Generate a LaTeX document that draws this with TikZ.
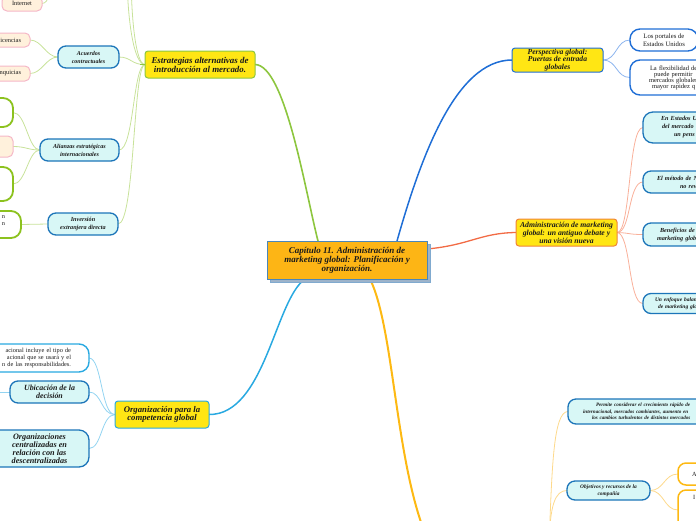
\documentclass[tikz,border=0pt]{standalone}
\usepackage{fontspec}
\setmainfont{Liberation Serif}
\usetikzlibrary{backgrounds}
\definecolor{txt}{HTML}{1A1A1A}
\definecolor{cgold}{HTML}{FDB515}
\definecolor{cenb}{HTML}{4A86BA}
\definecolor{cshadow}{HTML}{9DB3CA}
\definecolor{cyel}{HTML}{FFE614}
\definecolor{ccyan}{HTML}{D8F7F6}
\definecolor{cblueb}{HTML}{1C75B9}
\definecolor{cgreen}{HTML}{8DC63F}
\definecolor{cgreenl}{HTML}{C8E29A}
\definecolor{cgreenb}{HTML}{8CC21E}
\definecolor{cpink}{HTML}{F5B7C7}
\definecolor{ccream}{HTML}{FFF1DC}
\definecolor{ccoral}{HTML}{F26B45}
\definecolor{ccorall}{HTML}{F9B09A}
\definecolor{corange}{HTML}{F08437}
\definecolor{cblue}{HTML}{1F6ED6}
\definecolor{cbluel}{HTML}{8DB5EE}
\definecolor{csky}{HTML}{29A9E1}
\definecolor{cskyl}{HTML}{93D4F1}
\definecolor{cgoldl}{HTML}{FDD98B}
\definecolor{cgoldb}{HTML}{FDB913}
\newcommand{\fsz}[2]{\fontsize{#1}{#2}\selectfont}
\begin{document}
\begin{tikzpicture}[x=1pt,y=-1pt,
  every node/.style={text=txt, inner sep=0pt, outer sep=0pt},
  bigbox/.style={rectangle, rounded corners=3pt, fill=cyel, line width=1pt, align=center},
  cyanbox/.style={rectangle, rounded corners=8pt, fill=ccyan, draw=cblueb, line width=1.3pt, font=\bfseries\itshape, align=center},
  pinkbox/.style={rectangle, rounded corners=5pt, fill=ccream, draw=cpink, line width=1pt, font=\fsz{6.4}{7}},
  greenbox/.style={rectangle, rounded corners=10pt, fill=white, draw=cgreenb, line width=1.8pt, font=\fsz{6.3}{7}},
  whitebox/.style={rectangle, rounded corners=10pt, fill=white, line width=1.4pt},
  goldbox/.style={rectangle, rounded corners=8pt, fill=white, draw=cgoldb, line width=1.5pt, font=\fsz{6.3}{7}},
  thin/.style={line width=0.8pt}
]
\useasboundingbox (0,0) rectangle (696,520);

% ---------- central ----------
\node[rectangle, fill=cshadow, draw=cenb!70, line width=0.8pt, minimum width=160pt, minimum height=38pt] (censh) at (350,263) {};
\node[rectangle, fill=cgold, draw=cenb, line width=1pt, minimum width=160pt, minimum height=38pt, align=center, font=\bfseries\itshape\fsz{9}{9}] (cen) at (347,260) {Capítulo 11. Administración de\\marketing global: Planificación y\\organización.};

% ---------- main topics ----------
\node[bigbox, draw=cgreen, minimum width=110pt, minimum height=27pt, font=\bfseries\itshape\fsz{8.9}{9}] (est) at (200,64.5) {Estrategias alternativas de\\introducción al mercado.};
\node[bigbox, draw=cblue, minimum width=91pt, minimum height=24pt, font=\bfseries\itshape\fsz{7.6}{7.5}] (persp) at (557.5,60) {Perspectiva global:\\Puertas de entrada\\globales};
\node[bigbox, draw=corange, minimum width=101pt, minimum height=27pt, font=\bfseries\itshape\fsz{7.7}{8}] (admin) at (566.5,232.5) {Administración de marketing\\global: un antiguo debate y\\una visión nueva};
\node[bigbox, draw=csky, minimum width=94pt, minimum height=27pt, font=\bfseries\itshape\fsz{8.7}{8.6}] (org) at (162,414.5) {Organización para la\\competencia global};

% ---------- left: estrategias ----------
\node[cyanbox, minimum width=61pt, minimum height=22pt, font=\bfseries\itshape\fsz{6}{8}] (acu) at (88.5,57) {Acuerdos\\contractuales};
\node[pinkbox, anchor=east, inner xsep=9pt, minimum height=14pt] (lic) at (30,40) {Licencias};
\node[pinkbox, anchor=east, inner xsep=9pt, minimum height=15pt] (fran) at (30,73.5) {Franquicias};
\node[pinkbox, minimum width=40pt, minimum height=15pt] (internet) at (22,3.5) {Internet};

\node[cyanbox, minimum width=79pt, minimum height=22pt, font=\bfseries\itshape\fsz{6.1}{8}] (ali) at (79.5,150) {Alianzas estratégicas\\internacionales};
\node[greenbox, anchor=east, minimum width=60pt, minimum height=29pt] (gA) at (13,112.5) {};
\node[pinkbox, anchor=east, minimum width=60pt, minimum height=21pt] (pinkA) at (13,146.5) {};
\node[greenbox, anchor=east, minimum width=60pt, minimum height=34pt] (gB) at (13,184) {};

\node[cyanbox, minimum width=70pt, minimum height=22pt, font=\bfseries\itshape\fsz{6.2}{8}] (inv) at (83,224) {Inversión\\extranjera directa};
\node[greenbox, anchor=east, align=right, inner xsep=16pt, minimum height=27pt] (gC) at (21,224.5) {n\\n\\\mbox{}};

% ---------- left: organizacion ----------
\node[whitebox, draw=csky, anchor=east, align=right, text width=80pt, inner xsep=18pt, minimum height=28pt, font=\fsz{6.3}{6.8}] (node1) at (89,358) {acional incluye el tipo de\hspace*{6pt}\\acional que se usará y el\hspace*{9pt}\\n de las responsabilidades.};
\node[cyanbox, minimum width=79pt, minimum height=22pt, font=\bfseries\itshape\fsz{7.9}{7.8}] (ubic) at (49.5,392) {Ubicación de la\\decisión};
\node[cyanbox, rounded corners=10pt, minimum width=99pt, minimum height=37pt, font=\bfseries\itshape\fsz{8.2}{7.8}] (orgz) at (39.5,448.5) {Organizaciones\\centralizadas en\\relación con las\\descentralizadas};

% ---------- right: perspectiva ----------
\node[whitebox, draw=cblue, anchor=west, inner xsep=13pt, minimum height=22pt, align=center, font=\fsz{6.7}{8}] (portales) at (630,40) {Los portales de\\Estados Unidos};
\node[whitebox, draw=cblue, anchor=west, text width=80pt, inner xsep=19pt, minimum height=35pt, align=left, font=\fsz{6.5}{6}] (flex) at (630,77.5) {\hspace*{1pt}La flexibilidad de\\\hspace*{5pt}puede permitir\\mercados globales\\\hspace*{3pt}mayor rapidez q};

% ---------- right: administracion ----------
\node[cyanbox, rounded corners=10pt, anchor=west, text width=80pt, inner xsep=18pt, minimum height=31pt, align=left, font=\bfseries\itshape\fsz{6.2}{8}] (eeuu) at (643,127.5) {En Estados U\\\hspace*{1pt}del mercado\\\hspace*{13pt}un pens};
\node[cyanbox, anchor=west, text width=80pt, inner xsep=14pt, minimum height=22pt, align=left, font=\bfseries\itshape\fsz{6.2}{8}] (metodo) at (643,182) {El método de N\\\hspace*{23pt}no rev};
\node[cyanbox, anchor=west, text width=80pt, inner xsep=14pt, minimum height=23pt, align=left, font=\bfseries\itshape\fsz{6.2}{8}] (benef) at (643,234.5) {\hspace*{3pt}Beneficios de\\marketing glob};
\node[cyanbox, anchor=west, text width=80pt, inner xsep=12pt, minimum height=20pt, align=left, font=\bfseries\itshape\fsz{5.5}{7}] (enfoque) at (643,303.5) {Un enfoque balan\\\hspace*{3pt}de marketing glo};

% ---------- bottom right ----------
\node[cyanbox, anchor=west, text width=150pt, inner xsep=15pt, minimum height=25pt, align=left, font=\bfseries\itshape\fsz{5.1}{6.5}] (permite) at (568,411.5) {\hspace*{13pt}Permite considerar el crecimiento rápido de\\internacional, mercados cambiantes, aumento en\\\hspace*{9pt}los cambios turbulentos de distintos mercados};
\node[cyanbox, minimum width=83pt, minimum height=19pt, font=\bfseries\itshape\fsz{5.4}{7}] (obj) at (608.5,490.5) {Objetivos y recursos de la\\compañía};
\node[goldbox, anchor=west, text width=30pt, inner xsep=14pt, minimum height=22pt, align=left] (childA) at (678,474) {A};
\node[goldbox, anchor=west, minimum width=60pt, minimum height=40pt] (childB) at (678,510) {};
\node[anchor=west, font=\fsz{6.3}{7}] (childBt) at (693,497.5) {I};

% ---------- off-canvas ends ----------
\coordinate (offA) at (127,-30);
\coordinate (offB) at (131,-30);
\coordinate (offC) at (56,-20);
\coordinate (offD) at (-20,392);
\coordinate (goldEnd) at (430,545);
\coordinate (offE) at (549,545);

% ---------- connectors ----------
\begin{scope}[on background layer]
\draw[line width=1.6pt, cgreen] ([xshift=-29pt]cen.north) .. controls (305,190) and (285,65) .. (est.east);
\draw[line width=1.5pt, cblue] ([xshift=50pt]cen.north) .. controls (420,160) and (455,60) .. (persp.west);
\draw[line width=1.3pt, ccoral] ([yshift=11pt]cen.east) .. controls (470,245) and (480,233) .. (admin.west);
\draw[line width=1.5pt, csky] ([xshift=-42pt]cen.south) .. controls (275,300) and (265,415) .. (org.east);
\draw[line width=2pt, cgoldb] ([xshift=23pt]cen.south) .. controls (395,330) and (395,470) .. (goldEnd);

\draw[thin, cgreenl] (est.west) .. controls (132,65) and (131,57) .. (acu.east);
\draw[thin, cgreenl] (est.west) .. controls (133,65) and (134,150) .. (ali.east);
\draw[thin, cgreenl] (est.west) .. controls (133,65) and (135,224) .. (inv.east);
\draw[thin, cgreenl] (est.west) .. controls (134,65) and (127,20) .. (offA);
\draw[thin, cgreenl] (est.west) .. controls (136,65) and (131,20) .. (offB);
\draw[line width=1.2pt, cgreen] (est.west) -- ++(-5,0);

\draw[thin, cgreenl] (acu.west) .. controls (46,57) and (42,40) .. (lic.east);
\draw[thin, cgreenl] (acu.west) .. controls (46,57) and (42,73.5) .. (fran.east);
\draw[thin, cgreenl] (internet.east) .. controls (50,3) and (48,-10) .. (offC);
\draw[thin, cgreenl] (ali.west) .. controls (28,150) and (26,112.5) .. (gA.east);
\draw[thin, cgreenl] (ali.west) .. controls (28,150) and (26,146.5) .. (pinkA.east);
\draw[thin, cgreenl] (ali.west) .. controls (28,150) and (26,184) .. (gB.east);
\draw[thin, cgreenl] (inv.west) -- (gC.east);

\draw[thin, cskyl] (org.west) .. controls (101,415) and (102,358) .. (node1.east);
\draw[thin, cskyl] (org.west) .. controls (101,415) and (102,392) .. (ubic.east);
\draw[thin, cskyl] (org.west) .. controls (101,415) and (102,448.5) .. (orgz.east);
\draw[thin, cskyl] (ubic.west) -- (offD);

\draw[thin, cbluel] (persp.east) .. controls (617,60) and (616,40) .. (portales.west);
\draw[thin, cbluel] (persp.east) .. controls (617,60) and (616,77.5) .. (flex.west);

\draw[thin, ccorall] (admin.east) .. controls (631,233) and (628,127.5) .. (eeuu.west);
\draw[thin, ccorall] (admin.east) .. controls (631,233) and (628,182) .. (metodo.west);
\draw[thin, ccorall] (admin.east) .. controls (631,233) and (628,234.5) .. (benef.west);
\draw[thin, ccorall] (admin.east) .. controls (631,233) and (628,303.5) .. (enfoque.west);

\draw[thin, cgoldl] (obj.east) .. controls (664,490.5) and (664,474) .. (childA.west);
\draw[thin, cgoldl] (obj.east) .. controls (664,490.5) and (664,510) .. (childB.west);
\draw[thin, cgoldl] (offE) .. controls (552,470) and (553,411.5) .. (permite.west);
\draw[thin, cgoldl] (offE) .. controls (550,505) and (555,490.5) .. (obj.west);
\end{scope}
\end{tikzpicture}
\end{document}
